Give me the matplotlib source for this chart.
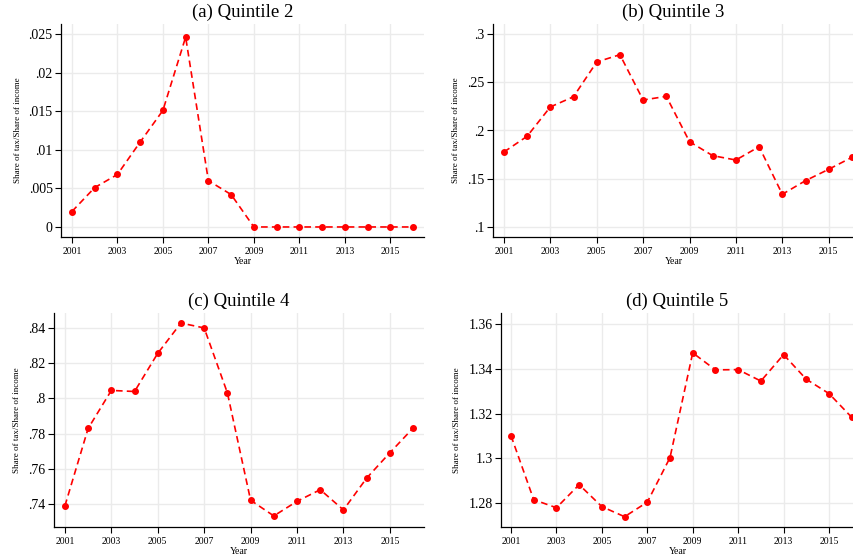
import numpy as np
import matplotlib
matplotlib.use('Agg')
import matplotlib.pyplot as plt

plt.rcParams['font.family'] = ['Liberation Serif', 'DejaVu Serif']

years = list(range(2001, 2017))

q2 = [0.0020, 0.0051, 0.0068, 0.0110, 0.0151, 0.0246, 0.0060, 0.0042,
      0.0, 0.0, 0.0, 0.0, 0.0, 0.0, 0.0, 0.0]
q3 = [0.1777, 0.1940, 0.2244, 0.2350, 0.2710, 0.2786, 0.2316, 0.2354,
      0.1884, 0.1739, 0.1694, 0.1832, 0.1339, 0.1480, 0.1598, 0.1722]
q4 = [0.7389, 0.7829, 0.8045, 0.8039, 0.8256, 0.8428, 0.8400, 0.8031,
      0.7421, 0.7332, 0.7415, 0.7481, 0.7366, 0.7547, 0.7691, 0.7831]
q5 = [1.3101, 1.2815, 1.2779, 1.2882, 1.2784, 1.2739, 1.2804, 1.3003,
      1.3471, 1.3395, 1.3396, 1.3345, 1.3463, 1.3353, 1.3289, 1.3183]

titles = ['(a) Quintile 2', '(b) Quintile 3', '(c) Quintile 4', '(d) Quintile 5']

xticks = [2001, 2003, 2005, 2007, 2009, 2011, 2013, 2015]

q2_ticks = [0, 0.005, 0.01, 0.015, 0.02, 0.025]
q2_labels = ['0', '.005', '.01', '.015', '.02', '.025']
q3_ticks = [0.1, 0.15, 0.2, 0.25, 0.3]
q3_labels = ['.1', '.15', '.2', '.25', '.3']
q4_ticks = [0.74, 0.76, 0.78, 0.8, 0.82, 0.84]
q4_labels = ['.74', '.76', '.78', '.8', '.82', '.84']
q5_ticks = [1.28, 1.3, 1.32, 1.34, 1.36]
q5_labels = ['1.28', '1.3', '1.32', '1.34', '1.36']

W, H = 854, 557
fig = plt.figure(figsize=(W / 100, H / 100), dpi=100)


def add_ax(left, right, top, bottom):
    return fig.add_axes([left / W, (H - bottom) / H, (right - left) / W, (bottom - top) / H])


panels = [
    (add_ax(61, 424, 24, 237), q2, q2_ticks, q2_labels, (2000.52, 2016.48), (-0.0013, 0.0263)),
    (add_ax(493, 854, 24, 237), q3, q3_ticks, q3_labels, (2000.53, 2016.09), (0.0896, 0.3104)),
    (add_ax(54, 424, 313, 527), q4, q4_ticks, q4_labels, (2000.53, 2016.47), (0.7269, 0.8485)),
    (add_ax(501, 854, 313, 527), q5, q5_ticks, q5_labels, (2000.56, 2016.10), (1.2693, 1.3649)),
]

for (ax, vals, yt, yl, xlim, ylim), title in zip(panels, titles):
    ax.plot(years, vals, color='#ff0000', linestyle='--', dashes=(4, 2.5), linewidth=1.2,
            marker='o', markersize=4, zorder=3)
    ax.set_xlim(*xlim)
    ax.set_ylim(*ylim)
    ax.set_xticks(xticks)
    ax.set_yticks(yt)
    ax.set_yticklabels(yl, fontsize=10)
    ax.tick_params(axis='x', labelsize=7, length=4, width=0.8, pad=3)
    ax.tick_params(axis='y', length=4, width=0.8, pad=2)
    ax.grid(True, color='#ebebeb', linewidth=1.0, zorder=0)
    ax.set_axisbelow(True)
    for s in ['top', 'right']:
        ax.spines[s].set_visible(False)
    for s in ['left', 'bottom']:
        ax.spines[s].set_linewidth(0.9)
    ax.set_title(title, fontsize=13.5, pad=5)
    ax.set_xlabel('Year', fontsize=7, labelpad=1)
    ax.set_ylabel('Share of tax/Share of income', fontsize=6.5, labelpad=5)

fig.savefig('out.png', dpi=100)
